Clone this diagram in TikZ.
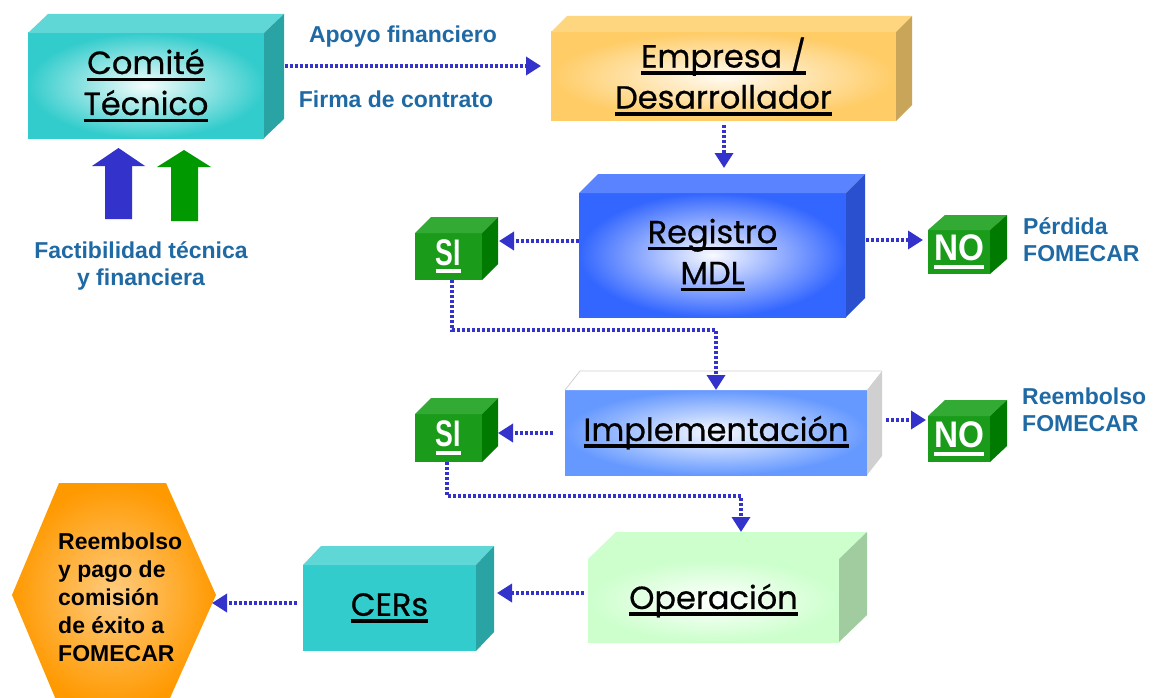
\documentclass[tikz,border=0pt]{standalone}
\usepackage{fontspec}
\setmainfont{Liberation Sans}
\newfontfamily\titlefont[FakeBold=0.6]{Poppins}
\usetikzlibrary{arrows.meta}
\definecolor{tealc}{HTML}{33CCCC}
\definecolor{tealtop}{HTML}{5FD7D7}
\definecolor{tealside}{HTML}{29A3A3}
\definecolor{goldc}{HTML}{FFCC66}
\definecolor{goldtop}{HTML}{FFD680}
\definecolor{goldside}{HTML}{C9A55A}
\definecolor{bluec}{HTML}{3366FF}
\definecolor{bluetop}{HTML}{5A84FF}
\definecolor{blueside}{HTML}{2A50D0}
\definecolor{implc}{HTML}{6699FF}
\definecolor{implside}{HTML}{D0D0D0}
\definecolor{greenc}{HTML}{1A9C1A}
\definecolor{greentop}{HTML}{33AA33}
\definecolor{greenside}{HTML}{007A00}
\definecolor{operc}{HTML}{CCFFCC}
\definecolor{opertop}{HTML}{CCFFCC}
\definecolor{operside}{HTML}{A0CCA0}
\definecolor{arrowc}{HTML}{3333CC}
\definecolor{labc}{HTML}{1F6AA5}
\definecolor{fatblue}{HTML}{3333CC}
\definecolor{fatgreen}{HTML}{009900}
\definecolor{orangec}{HTML}{FF9900}
\definecolor{orangein}{HTML}{FFCC80}
\newcommand\myul[2][0.11em]{\setbox0\hbox{#2}\leavevmode\rlap{\rule[-0.22em]{\wd0}{#1}}\box0}
\newcommand\faces[5]{%
  \fill[#4] (#1.north west) -- ++(#2,-#3) -- ([shift={(#2,-#3)}]#1.north east) -- (#1.north east) -- cycle;
  \fill[#5] (#1.north east) -- ++(#2,-#3) -- ([shift={(#2,-#3)}]#1.south east) -- (#1.south east) -- cycle;}
\tikzset{
  front/.style={outer sep=0pt, inner sep=0pt, align=center, shade, shading=radial,
    font=\titlefont\fontsize{32}{41}\selectfont},
  flat/.style={outer sep=0pt, inner sep=0pt, align=center,
    font=\titlefont\fontsize{32}{41}\selectfont},
  sino/.style={outer sep=0pt, inner sep=0pt, fill=greenc, text=white,
    font=\bfseries\fontsize{37}{37}\selectfont},
  arr/.style={draw=arrowc, line width=3.5pt, dash pattern=on 3pt off 2pt,
    -{Triangle[length=15pt,width=18pt]}},
  lab/.style={text=labc, font=\bfseries\fontsize{23}{27}\selectfont, inner sep=0pt},
}
\begin{document}
\begin{tikzpicture}[x=1pt,y=-1pt]
\useasboundingbox (0,0) rectangle (1153,698);
\fill[white] (0,0) rectangle (1153,698);

% boxes
\node[front, inner color=tealc!5, outer color=tealc, minimum width=236pt, minimum height=105pt]
  (comite) at (146,85.5) {\myul{Comité}\\\myul{Técnico}};
\faces{comite}{20}{19}{tealtop}{tealside}

\node[front, inner color=goldc!8, outer color=goldc, minimum width=345pt, minimum height=89pt]
  (empresa) at (723.5,76.5) {\myul{Empresa /}\\\myul{Desarrollador}};
\faces{empresa}{16}{16}{goldtop}{goldside}

\node[front, inner color=bluec!3, outer color=bluec, minimum width=267pt, minimum height=124pt]
  (registro) at (712.5,255) {\myul{Registro}\\\myul{MDL}};
\faces{registro}{19}{19}{bluetop}{blueside}

\node[front, inner color=implc!5, outer color=implc, minimum width=302pt, minimum height=85pt]
  (impl) at (716,432.5) {\myul{Implementación}};
\faces{impl}{15}{19}{white}{implside}
\draw[implside, line width=0.8pt] (impl.north west) -- ++(15,-19) -- ([shift={(15,-19)}]impl.north east);

\node[front, inner color=white, outer color=operc, minimum width=251pt, minimum height=83pt]
  (oper) at (713.5,600.5) {\myul{Operación}};
\faces{oper}{28}{27}{opertop}{operside}

\node[flat, fill=tealc, minimum width=173pt, minimum height=86pt]
  (cers) at (389.5,608) {\myul{CERs}};
\faces{cers}{18}{19}{tealtop}{tealside}

% SI / NO boxes
\node[sino, minimum width=67pt, minimum height=47pt] (si1) at (448.5,256.5) {\scalebox{0.72}[1]{\myul{SI}}};
\faces{si1}{16}{16}{greentop}{greenside}
\node[sino, minimum width=67pt, minimum height=48pt] (si2) at (448.5,438) {\scalebox{0.72}[1]{\myul{SI}}};
\faces{si2}{16}{16}{greentop}{greenside}
\node[sino, minimum width=62pt, minimum height=44pt] (no1) at (959,252) {\scalebox{0.9}[1]{\myul{NO}}};
\faces{no1}{17}{15}{greentop}{greenside}
\node[sino, minimum width=62pt, minimum height=46pt] (no2) at (959,439) {\scalebox{0.9}[1]{\myul{NO}}};
\faces{no2}{17}{16}{greentop}{greenside}

% hexagon
\shade[inner color=orangein, outer color=orangec] (12,595) -- (59,483) -- (166,483) -- (216,595) -- (166,707) -- (59,707) -- cycle;
\coordinate (hexR) at (212,603);
\node[anchor=west, inner sep=0pt, align=left, font=\bfseries\fontsize{23}{28}\selectfont]
  (hextext) at (58,597) {Reembolso\\y pago de\\comisión\\de éxito a\\FOMECAR};

% fat arrows
\fill[fatblue] (105,219) -- (105,166) -- (92,166) -- (118.5,148) -- (145,166) -- (132,166) -- (132,219) -- cycle;
\fill[fatgreen] (171,221) -- (171,167) -- (157,167) -- (184,150) -- (211,167) -- (198,167) -- (198,221) -- cycle;

% labels
\node[lab] (apoyo) at (403,37) {Apoyo financiero};
\node[lab] (firma) at (396,99) {Firma de contrato};
\node[lab, align=center] (fact) at (141,266) {Factibilidad técnica\\y financiera};
\node[lab, align=left, anchor=west] (perd) at (1023,239.5) {Pérdida\\FOMECAR};
\node[lab, align=left, anchor=west] (reemb) at (1022,409.5) {Reembolso\\FOMECAR};

% connectors
\coordinate (operTop) at ([shift={(27.5,-27)}]oper.north);
\draw[arr] ([xshift=21pt]comite.east |- 0,66) -- ([xshift=-10pt]empresa.west |- 0,66);
\draw[arr, shorten <=4pt] (empresa.south -| 724,0) -- ([yshift=25pt]registro.north -| 724,0);
\draw[arr] (registro.west |- 0,241) -- ([xshift=17pt]si1.east |- 0,241);
\draw[arr] ([xshift=20pt]registro.east |- 0,240) -- ([xshift=-5pt]no1.west |- 0,240);
\draw[arr] (si1.south -| 452,0) |- (impl.north |- 0,330) -- (impl.north);
\draw[arr] ([xshift=-12pt]impl.west |- 0,433) -- ([xshift=16pt]si2.east |- 0,433);
\draw[arr] ([xshift=19pt]impl.east |- 0,420) -- ([xshift=-2pt]no2.west |- 0,420);
\draw[arr] (si2.south -| 447,0) |- (operTop |- 0,496) -- (operTop);
\draw[arr] ([xshift=-4pt]oper.west |- 0,593) -- ([xshift=21pt]cers.east |- 0,593);
\draw[arr] ([xshift=-6pt]cers.west |- hexR) -- (hexR);
\end{tikzpicture}
\end{document}
